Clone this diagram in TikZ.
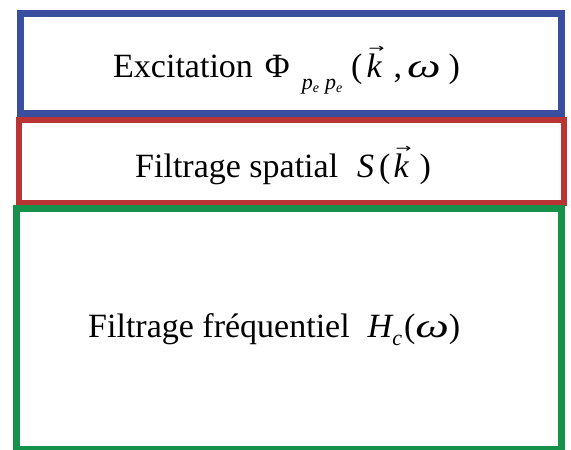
\documentclass[tikz,border=0pt]{standalone}
\usepackage{fontspec}
\setmainfont{Liberation Serif}
\newfontfamily\arrowfont{DejaVu Sans}
\definecolor{exblue}{RGB}{58,78,160}
\definecolor{exred}{RGB}{185,52,50}
\definecolor{exgreen}{RGB}{22,145,75}
\newcommand{\vk}{\ooalign{{\itshape k}\cr\hidewidth\kern5pt\raisebox{25pt}{\scalebox{0.95}[0.6]{\arrowfont\fontsize{20}{20}\selectfont →}}\hidewidth\cr}}
\newcommand{\subpe}{{\fontsize{22}{22}\selectfont\itshape p}\raisebox{-3pt}{\fontsize{14}{14}\selectfont\itshape e}}
\begin{document}
\begin{tikzpicture}[x=1pt,y=-1pt,
  txt/.style={anchor=base west, inner sep=0pt, font=\fontsize{34}{40}\selectfont},
  framebox/.style={draw, inner sep=0pt, outer sep=0pt, line join=miter}]
\useasboundingbox (0,0) rectangle (571,450);
\fill[white] (0,0) rectangle (571,450);
\node[framebox, draw=exblue, line width=7pt, minimum width=540.5pt, minimum height=100pt] (excbox) at (290.75,63.5) {};
\node[framebox, draw=exred, line width=6pt, minimum width=545pt, minimum height=82.5pt] (spatbox) at (291,161.25) {};
\node[framebox, draw=exgreen, line width=7pt, minimum width=545pt, minimum height=240.5pt] (freqbox) at (288.5,328.75) {};
\node[txt] (exctext) at (113,77) {Excitation\hspace{12pt}Φ\hspace{12pt}\raisebox{-12pt}{\subpe\hspace{6pt}\subpe}\hspace{9pt}(\hspace{4pt}\vk\hspace{12pt},\hspace{5pt}\scalebox{1.4}[1]{\itshape ω}\hspace{8pt})};
\node[txt] (spattext) at (135,177) {Filtrage spatial\hspace{19pt}{\itshape S}\hspace{5pt}(\hspace{3pt}\vk\hspace{11pt})};
\node[txt] (freqtext) at (88,337) {Filtrage fréquentiel\hspace{18pt}{\itshape H}\raisebox{-8pt}{\fontsize{22}{22}\selectfont\itshape c}\hspace{2pt}(\scalebox{1.4}[1]{\itshape ω})};
\end{tikzpicture}
\end{document}
